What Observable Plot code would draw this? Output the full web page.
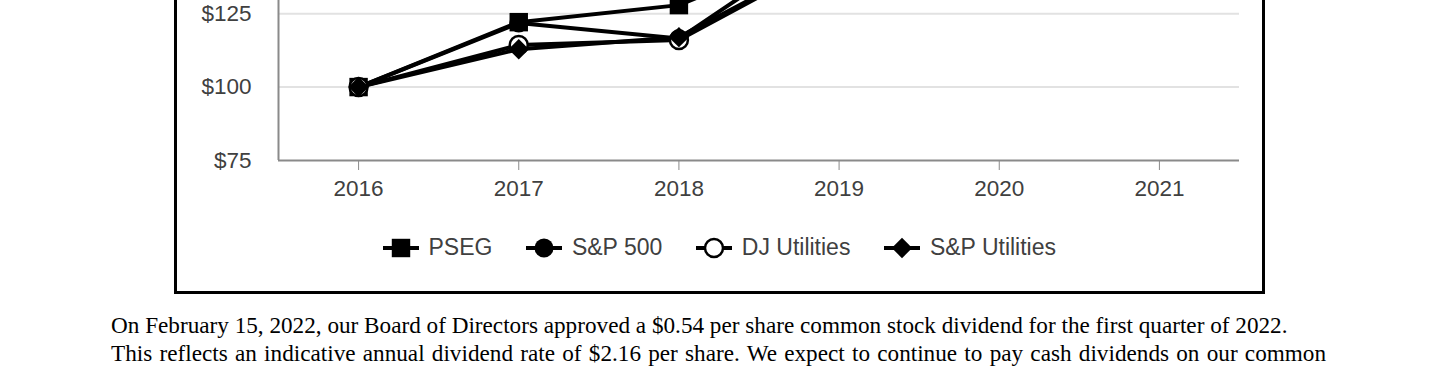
<!DOCTYPE html>
<html>
<head>
<meta charset="utf-8">
<script src="https://cdn.jsdelivr.net/npm/d3@7"></script>
<script src="https://cdn.jsdelivr.net/npm/@observablehq/plot@0.6"></script>
<style>
  html, body { margin: 0; padding: 0; background: #fff; width: 1440px; height: 375px; overflow: hidden; position: relative; }
  #box { position: absolute; left: 174px; top: -377px; width: 1085px; border: 3px solid #000; background: #fff; }
  #legend { height: 81px; box-sizing: border-box; padding-bottom: 6px; display: flex; justify-content: center; align-items: center;
            font-family: "Liberation Sans", Arial, sans-serif; font-size: 23px; color: #404040; }
  .item { display: flex; align-items: center; margin: 0 17px; }
  .item svg { margin-right: 9.5px; display: block; }
  #caption { position: absolute; left: 111px; top: 311px; font-family: "Liberation Serif", "Times New Roman", serif;
             font-size: 23.2px; line-height: 28px; color: #000; white-space: nowrap; }
  #caption .j { width: 1215px; text-align: justify; text-align-last: justify; white-space: normal; }
</style>
</head>
<body>
<div id="box"><div id="chart"></div><div id="legend"></div></div>
<div id="caption"></div>
<script>
// ---- data ----
const years = [2016, 2017, 2018, 2019, 2020, 2021];
const seriesNames = ["PSEG", "S&P 500", "DJ Utilities", "S&P Utilities"];
const pseg = [100, 122.1, 127.9, 150.3, 153.6, 181.4];
const sp500 = [100, 121.8, 116.5, 153.2, 181.3, 233.4];
const djUtilities = [100, 114.3, 116.0, 145.4, 146.6, 171.9];
const spUtilities = [100, 112.9, 117.0, 145.8, 146.5, 172.4];
const yTicks = [75, 100, 125, 150, 175, 200, 225, 250];
const captionLines = [
  "On February 15, 2022, our Board of Directors approved a $0.54 per share common stock dividend for the first quarter of 2022.",
  "This reflects an indicative annual dividend rate of $2.16 per share. We expect to continue to pay cash dividends on our common"
];

const valuesBySeries = [pseg, sp500, djUtilities, spUtilities];
const rows = seriesNames.flatMap((s, i) => years.map((y, j) => ({series: s, year: y, value: valuesBySeries[i][j]})));

const markerStyle = {
  "PSEG": {symbol: "square", fill: "#000", stroke: "none", r: 10.4, sw: 0},
  "S&P 500": {symbol: "circle", fill: "#000", stroke: "none", r: 9.5, sw: 0},
  "DJ Utilities": {symbol: "circle", fill: "#fff", stroke: "#000", r: 9, sw: 2.5},
  "S&P Utilities": {symbol: "diamond2", fill: "#000", stroke: "none", r: 9.2, sw: 0}
};

const marks = [
  Plot.ruleY(yTicks.filter(d => d > 75), {stroke: "#e2e2e2", strokeWidth: 2}),
  Plot.ruleX([2015.5], {y1: 75, y2: 250, stroke: "#8a8a8a", strokeWidth: 2}),
  Plot.ruleY([75], {stroke: "#8a8a8a", strokeWidth: 2}),
  Plot.axisY({ticks: yTicks, tickSize: 0, tickPadding: 27, tickFormat: d => "$" + d, fill: "#404040", label: null}),
  Plot.axisX({ticks: years, tickSize: 10, tickPadding: 10, tickFormat: d => String(d), stroke: "#8a8a8a", fill: "#404040", label: null})
];
for (const s of seriesNames) {
  marks.push(Plot.line(rows.filter(d => d.series === s), {x: "year", y: "value", stroke: "#000", strokeWidth: 4, strokeLinejoin: "round"}));
}
for (const s of seriesNames) {
  const m = markerStyle[s];
  marks.push(Plot.dot(rows.filter(d => d.series === s), {x: "year", y: "value", symbol: m.symbol, r: m.r, fill: m.fill, stroke: m.stroke, strokeWidth: m.sw}));
}

const chart = Plot.plot({
  width: 1085,
  height: 584,
  marginTop: 20,
  marginBottom: 50,
  marginLeft: 101,
  marginRight: 23,
  x: {type: "linear", domain: [2015.5, 2021.5], label: null},
  y: {domain: [75, 250], label: null},
  style: {fontFamily: "'Liberation Sans', Arial, sans-serif", fontSize: "22.5px", color: "#404040", background: "#fff"},
  marks
});
document.getElementById("chart").appendChild(chart);

// legend
const legend = d3.select("#legend");
for (const s of seriesNames) {
  const m = markerStyle[s];
  const item = legend.append("div").attr("class", "item");
  const svg = item.append("svg").attr("width", 36).attr("height", 24);
  svg.append("line").attr("x1", 0).attr("x2", 36).attr("y1", 12).attr("y2", 12).attr("stroke", "#000").attr("stroke-width", 4);
  const sym = {square: d3.symbolSquare, circle: d3.symbolCircle, diamond2: d3.symbolDiamond2}[m.symbol];
  svg.append("path").attr("transform", "translate(18,12)")
    .attr("d", d3.symbol(sym, Math.PI * m.r * m.r)())
    .attr("fill", m.fill).attr("stroke", m.stroke).attr("stroke-width", m.sw);
  item.append("span").text(s);
}

// caption
const cap = d3.select("#caption");
cap.append("div").text(captionLines[0]);
cap.append("div").attr("class", "j").text(captionLines[1]);
</script>
</body>
</html>
